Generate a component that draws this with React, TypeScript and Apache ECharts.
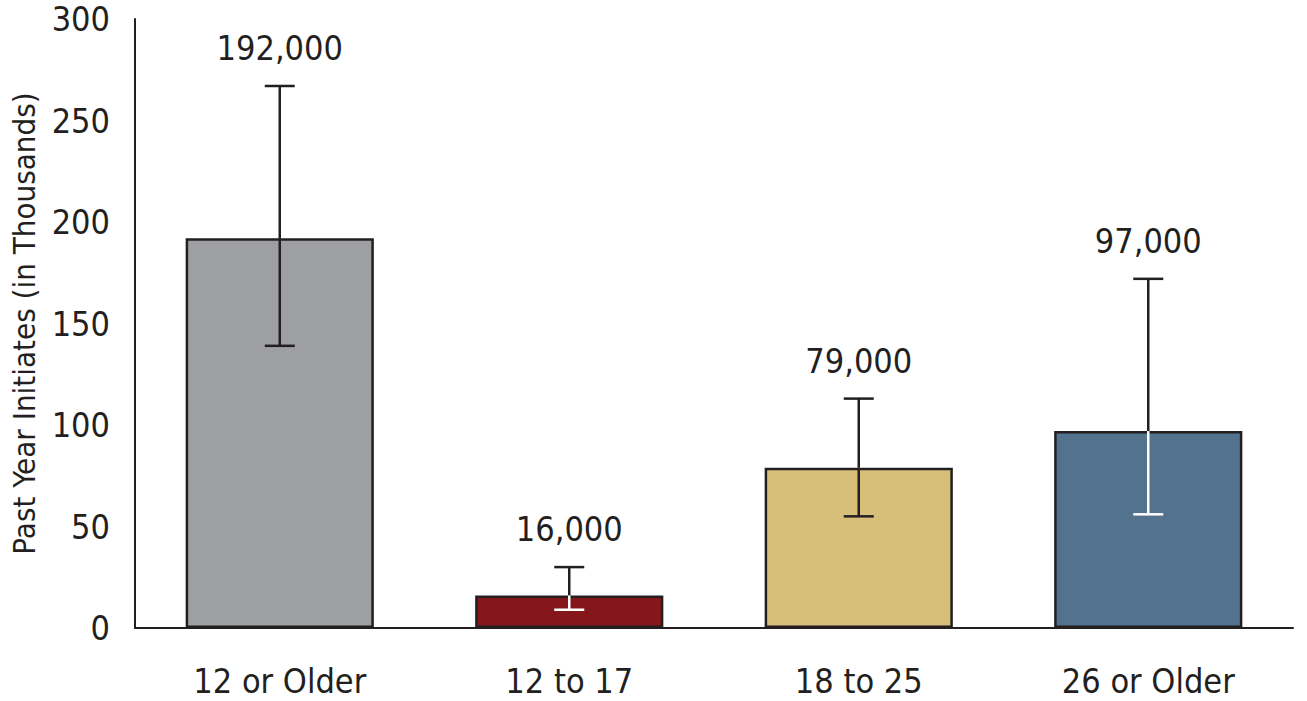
import React, { useEffect, useRef } from "react";
import * as echarts from "echarts";

const categories = ["12 or Older", "12 to 17", "18 to 25", "26 or Older"];
const values = [192, 16, 79, 97];
const errLow = [139, 9, 55, 56];
const errHigh = [267, 30, 113, 172];
const valueLabels = ["192,000", "16,000", "79,000", "97,000"];
const barColors = ["#9d9fa2", "#85171a", "#d7bf7a", "#52728d"];
const whiteInside = [0, 1, 0, 1];
const yTicks = [0, 50, 100, 150, 200, 250, 300];

const FONT = "'DejaVu Sans Condensed', 'Liberation Sans Narrow', sans-serif";
const INK = "#231f20";
const FS = 34;

export default function App() {
  const ref = useRef<HTMLDivElement>(null);
  useEffect(() => {
    if (!ref.current) return;
    const chart = echarts.init(ref.current, null, { renderer: "svg" });
    const errData = categories.map((_, i) => [i, errLow[i], errHigh[i], values[i], whiteInside[i]]);
    chart.setOption({
      animation: false,
      grid: { left: 135, right: 14, top: 19, bottom: 73, outerBoundsMode: "none", containLabel: false },
      xAxis: {
        type: "category",
        data: categories,
        axisLine: { show: true, lineStyle: { color: INK, width: 2 } },
        axisTick: { show: false },
        axisLabel: { color: INK, fontFamily: FONT, fontSize: FS, margin: 36 },
      },
      yAxis: {
        type: "value",
        min: yTicks[0],
        max: yTicks[yTicks.length - 1],
        interval: 50,
        name: "Past Year Initiates (in Thousands)",
        nameLocation: "middle",
        nameGap: 96,
        nameRotate: 90,
        nameTextStyle: { color: INK, fontFamily: FONT, fontSize: 31 },
        axisLine: { show: true, lineStyle: { color: INK, width: 2 } },
        axisTick: { show: false },
        splitLine: { show: false },
        axisLabel: { color: INK, fontFamily: FONT, fontSize: FS, margin: 25, lineHeight: 28 },
      },
      series: [
        {
          type: "bar",
          barWidth: "65%",
          data: values.map((v, i) => ({
            value: v,
            itemStyle: { color: barColors[i], borderColor: INK, borderWidth: 2.5 },
          })),
          z: 2,
        },
        {
          type: "custom",
          z: 5,
          data: errData,
          renderItem: (params: any, api: any) => {
            const i = api.value(0);
            const low = api.value(1);
            const high = api.value(2);
            const val = api.value(3);
            const inv = api.value(4);
            const pH = api.coord([i, high]);
            const pL = api.coord([i, low]);
            const pV = api.coord([i, val]);
            const hw = 15;
            const x = pH[0];
            const lowColor = inv ? "#ffffff" : INK;
            const style = (c: string) => ({ stroke: c, lineWidth: 2.5 });
            const children: any[] = [
              { type: "line", shape: { x1: x, y1: pH[1], x2: x, y2: pV[1] }, style: style(INK) },
              { type: "line", shape: { x1: x, y1: pV[1], x2: x, y2: pL[1] }, style: style(lowColor) },
              { type: "line", shape: { x1: x - hw, y1: pH[1], x2: x + hw, y2: pH[1] }, style: style(INK) },
              { type: "line", shape: { x1: x - hw, y1: pL[1], x2: x + hw, y2: pL[1] }, style: style(lowColor) },
              {
                type: "text",
                x: x,
                y: pH[1] - 38,
                style: {
                  text: valueLabels[params.dataIndex],
                  fill: INK,
                  font: `${FS}px ${FONT}`,
                  align: "center",
                  verticalAlign: "middle",
                },
              },
            ];
            return { type: "group", children };
          },
        },
      ],
    });
    return () => chart.dispose();
  }, []);
  return <div ref={ref} style={{ width: 1307, height: 701, position: "absolute", left: 0, top: 0 }} />;
}
